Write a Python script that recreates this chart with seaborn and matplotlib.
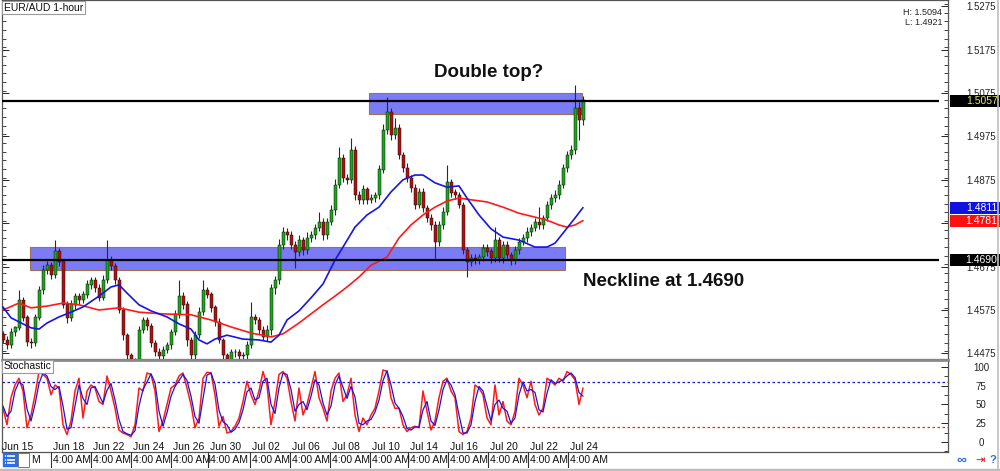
import numpy as np
import matplotlib
matplotlib.use('Agg')
import matplotlib.pyplot as plt
import matplotlib.transforms as mtransforms
from matplotlib.patches import Rectangle
from matplotlib.lines import Line2D
from matplotlib.ticker import MultipleLocator, FormatStrFormatter
import seaborn as sns

# --- price data (one candle ~ 5 hourly bars) ---
first_open = 1.4520
close = [
    1.4506, 1.4494, 1.4524, 1.4534, 1.4598, 1.4557, 1.4501, 1.4499, 1.4557, 1.4621,
    1.4667, 1.4679, 1.4656, 1.4709, 1.4686, 1.4587, 1.4557, 1.4587, 1.4607, 1.4598,
    1.4610, 1.4633, 1.4644, 1.4626, 1.4603, 1.4644, 1.4690, 1.4676, 1.4644, 1.4575,
    1.4517, 1.4471, 1.4441, 1.4455, 1.4529, 1.4552, 1.4538, 1.4499, 1.4478, 1.4469,
    1.4483, 1.4494, 1.4524, 1.4564, 1.4607, 1.4587, 1.4506, 1.4471, 1.4517, 1.4570,
    1.4621, 1.4610, 1.4580, 1.4547, 1.4506, 1.4471, 1.4460, 1.4478, 1.4478, 1.4469,
    1.4471, 1.4494, 1.4557, 1.4552, 1.4529, 1.4513, 1.4529, 1.4626, 1.4644, 1.4725,
    1.4755, 1.4748, 1.4725, 1.4709, 1.4736, 1.4713, 1.4741, 1.4748, 1.4764, 1.4778,
    1.4748, 1.4778, 1.4805, 1.4863, 1.4925, 1.4879, 1.4875, 1.4944, 1.4840, 1.4829,
    1.4852, 1.4829, 1.4833, 1.4840, 1.4898, 1.4990, 1.5031, 1.4978, 1.4994, 1.4932,
    1.4902, 1.4879, 1.4856, 1.4817, 1.4847, 1.4810, 1.4787, 1.4771, 1.4732, 1.4771,
    1.4801, 1.4868, 1.4845, 1.4840, 1.4817, 1.4713, 1.4686, 1.4695, 1.4690, 1.4697,
    1.4718, 1.4709, 1.4695, 1.4736, 1.4695, 1.4725, 1.4702, 1.4690, 1.4713, 1.4732,
    1.4741, 1.4755, 1.4764, 1.4778, 1.4771, 1.4787, 1.4817, 1.4833, 1.4840, 1.4863,
    1.4902, 1.4932, 1.4944, 1.5040, 1.5013, 1.5057]

# wick lengths above / below the body, in pips
wick_hi = [
    6, 8, 10, 5, 23, 7, 6, 9, 8, 10,
    12, 9, 7, 27, 8, 6, 9, 10, 7, 8,
    9, 11, 8, 6, 10, 12, 46, 9, 7, 6,
    8, 5, 6, 9, 10, 8, 7, 6, 8, 9,
    10, 7, 8, 12, 37, 9, 8, 6, 10, 12,
    23, 8, 7, 6, 9, 5, 6, 8, 7, 6,
    8, 10, 37, 9, 7, 8, 12, 10, 9, 14,
    12, 8, 10, 9, 11, 8, 13, 10, 9, 23,
    8, 10, 12, 15, 26, 10, 9, 27, 8, 9,
    12, 7, 9, 8, 12, 14, 35, 10, 23, 9,
    8, 11, 7, 9, 10, 8, 7, 9, 8, 10,
    12, 41, 9, 8, 7, 6, 8, 9, 10, 8,
    9, 10, 8, 30, 7, 9, 8, 6, 9, 10,
    8, 11, 9, 10, 34, 8, 9, 10, 12, 11,
    10, 9, 12, 54, 15, 12]
wick_lo = [
    8, 10, 7, 9, 6, 8, 10, 12, 7, 6,
    8, 9, 10, 7, 9, 8, 12, 7, 9, 10,
    8, 7, 9, 10, 8, 6, 7, 9, 10, 8,
    12, 10, 8, 9, 7, 8, 10, 9, 8, 10,
    9, 7, 8, 6, 8, 9, 15, 10, 8, 7,
    6, 8, 9, 10, 8, 9, 10, 8, 12, 9,
    8, 10, 7, 9, 10, 8, 9, 12, 14, 10,
    9, 12, 10, 37, 9, 11, 8, 10, 9, 8,
    12, 9, 8, 10, 7, 9, 10, 8, 12, 9,
    10, 9, 8, 10, 9, 8, 10, 12, 9, 10,
    9, 8, 10, 9, 8, 10, 9, 11, 42, 10,
    9, 8, 10, 9, 8, 10, 35, 9, 10, 8,
    9, 10, 12, 9, 10, 11, 9, 12, 10, 9,
    8, 9, 10, 8, 9, 10, 8, 9, 10, 9,
    8, 9, 10, 10, 46, 12]

# moving averages, sampled at candle indices
ma_fast_idx = [0, 2, 5, 7, 9, 11, 14, 17, 20, 24, 27, 29, 31, 34, 37, 41, 44, 47, 49, 51,
               53, 56, 60, 64, 67, 69, 71, 74, 77, 80, 83, 85, 88, 91, 94, 97, 100, 103, 105, 108,
               111, 114, 116, 119, 122, 125, 129, 133, 136, 138, 140, 143, 145]
ma_fast = [1.4582, 1.4557, 1.4543, 1.4534, 1.4531, 1.4545, 1.4559, 1.4570, 1.4582, 1.4607,
           1.4628, 1.4633, 1.4614, 1.4587, 1.4573, 1.4559, 1.4543, 1.4531, 1.4506, 1.4497,
           1.4508, 1.4517, 1.4508, 1.4506, 1.4501, 1.4517, 1.4552, 1.4573, 1.4603, 1.4635,
           1.4690, 1.4720, 1.4766, 1.4794, 1.4812, 1.4847, 1.4875, 1.4886, 1.4886, 1.4868,
           1.4858, 1.4861, 1.4833, 1.4794, 1.4762, 1.4743, 1.4736, 1.4720, 1.4720, 1.4729,
           1.4752, 1.4787, 1.4811]
ma_slow_idx = [0, 4, 7, 11, 15, 19, 24, 29, 34, 40, 47, 52, 57, 62, 67, 70, 74, 77, 80, 83,
               86, 89, 92, 96, 99, 102, 105, 108, 111, 114, 117, 121, 125, 129, 133, 136, 139, 141, 143, 145]
ma_slow = [1.4575, 1.4591, 1.4580, 1.4584, 1.4591, 1.4587, 1.4575, 1.4580, 1.4570, 1.4566,
           1.4564, 1.4552, 1.4536, 1.4522, 1.4513, 1.4520, 1.4545, 1.4566, 1.4587, 1.4607,
           1.4628, 1.4651, 1.4678, 1.4697, 1.4741, 1.4771, 1.4794, 1.4812, 1.4826, 1.4833,
           1.4829, 1.4824, 1.4812, 1.4798, 1.4789, 1.4782, 1.4771, 1.4766, 1.4771, 1.4781]

# stochastic %K (red) and %D (blue)
stoch_k = [45, 23, 59, 76, 85, 68, 19, 36, 63, 94, 90, 85, 63, 76, 72, 23, 10, 28, 68, 85,
           32, 68, 76, 72, 54, 50, 88, 68, 45, 16, 12, 10, 7, 23, 72, 68, 92, 90, 68, 14,
           28, 50, 72, 76, 88, 92, 72, 50, 19, 32, 85, 93, 92, 63, 21, 34, 12, 14, 21, 32,
           54, 81, 63, 50, 68, 94, 76, 23, 54, 90, 94, 85, 54, 28, 72, 36, 50, 72, 94, 59,
           45, 28, 68, 85, 92, 54, 63, 85, 36, 14, 32, 23, 36, 45, 68, 96, 94, 59, 45, 45,
           23, 14, 19, 21, 19, 68, 41, 16, 28, 59, 81, 85, 68, 59, 14, 10, 14, 32, 76, 72,
           63, 32, 23, 76, 36, 54, 28, 23, 41, 85, 76, 59, 81, 50, 36, 45, 85, 81, 76, 85,
           81, 94, 90, 83, 50, 72]
stoch_d = [48, 34, 41, 68, 80, 76, 44, 28, 50, 78, 92, 88, 74, 70, 74, 48, 17, 19, 48, 76,
           58, 50, 72, 74, 63, 52, 69, 78, 56, 30, 14, 11, 9, 15, 48, 70, 80, 91, 79, 41,
           21, 39, 61, 74, 82, 90, 82, 61, 34, 25, 58, 89, 92, 77, 42, 27, 23, 13, 17, 26,
           43, 67, 72, 56, 59, 81, 85, 50, 38, 72, 92, 90, 70, 41, 50, 54, 43, 61, 83, 76,
           52, 36, 48, 76, 88, 73, 58, 74, 60, 25, 23, 28, 30, 40, 56, 82, 95, 76, 52, 45,
           34, 18, 16, 20, 20, 43, 54, 28, 22, 43, 70, 83, 76, 63, 36, 12, 12, 23, 54, 74,
           68, 48, 28, 50, 56, 45, 41, 25, 32, 63, 80, 68, 70, 66, 43, 40, 65, 83, 78, 80,
           83, 88, 92, 86, 66, 61]

# annotation levels / zones
level_top = 1.5057
level_neck = 1.4690
zone_neck = [1.4667, 1.4720]
zone_top = [1.5027, 1.5075]
zone_neck_span = [6.75, 140.5]
zone_top_span = [91.5, 144.75]

date_labels = ['Jun 15', 'Jun 18', 'Jun 22', 'Jun 24', 'Jun 26', 'Jun 30', 'Jul 02', 'Jul 06',
               'Jul 08', 'Jul 10', 'Jul 14', 'Jul 16', 'Jul 20', 'Jul 22', 'Jul 24']
date_pos = [-0.25, 12.5, 22.5, 32.5, 42.5, 51.75, 62.25, 72.25, 82.25, 92.25,
            101.75, 111.75, 121.75, 131.75, 141.75]

sns.set_theme(style='white')
plt.rcParams['font.family'] = ['Liberation Sans', 'DejaVu Sans']

UP = '#1ea51e'
DOWN = '#b01010'
BLUE = '#1515e6'
RED = '#ff1a1a'

fig = plt.figure(figsize=(10, 4.71), dpi=100)
fig.patch.set_facecolor('white')
ax = fig.add_axes([0.002, 1 - 359 / 471, 0.946, 359 / 471])
ax_st = fig.add_axes([0.002, 1 - 452 / 471, 0.946, 92 / 471])
ax_bar = fig.add_axes([0.002, 3 / 471, 0.996, 16 / 471])

xlim = (-0.25, 236.25)

# --- candles ---
closes = np.array(close)
opens = np.array([first_open] + close[:-1])
highs = np.maximum(opens, closes) + np.array(wick_hi) / 10000
lows = np.minimum(opens, closes) - np.array(wick_lo) / 10000
idx = np.arange(len(closes))
colors = np.where(closes >= opens, UP, DOWN)

# zones behind everything
for span, z in [(zone_neck_span, zone_neck), (zone_top_span, zone_top)]:
    ax.add_patch(Rectangle((span[0], z[0]), span[1] - span[0], z[1] - z[0],
                           facecolor='#7b7bf7', edgecolor='#a0724a', lw=0.8, zorder=1))

ax.vlines(idx, lows, highs, color='#2a2a2a', lw=0.8, zorder=2)
ax.bar(idx, np.abs(closes - opens) + 0.00008, bottom=np.minimum(opens, closes),
       width=0.75, color=colors, edgecolor='#111111', linewidth=0.35, zorder=3)

sns.lineplot(x=ma_slow_idx, y=ma_slow, ax=ax, color=RED, linewidth=1.2, zorder=4)
sns.lineplot(x=ma_fast_idx, y=ma_fast, ax=ax, color=BLUE, linewidth=1.2, zorder=4)

for lv in (level_top, level_neck):
    ax.hlines(lv, xlim[0], 234, color='black', lw=1.6, zorder=5)

ax.text(121.5, 1.5123, 'Double top?', ha='center', va='center',
        fontsize=13.5, fontweight='bold', color='#111111', zorder=6)
ax.text(145, 1.4640, 'Neckline at 1.4690', ha='left', va='center',
        fontsize=13.5, fontweight='bold', color='#111111', zorder=6)

ax.set_xlim(*xlim)
ax.set_ylim(1.44621, 1.52893)
ax.set_xticks([])
ax.set_yticks(np.arange(1.4475, 1.5276, 0.01))
ax.yaxis.set_major_formatter(FormatStrFormatter('%.4f'))
ax.yaxis.set_minor_locator(MultipleLocator(0.002))
ax.tick_params(axis='y', which='both', left=True, right=True, labelleft=False,
               labelright=True, direction='in', labelsize=7, colors='#222222', pad=24)
ax.tick_params(axis='y', which='major', length=5, width=0.7)
ax.tick_params(axis='y', which='minor', length=3, width=0.6)
for t in ax.yaxis.get_major_ticks():
    t.label2.set_horizontalalignment('center')
for sp in ax.spines.values():
    sp.set_color('#555555')
    sp.set_linewidth(0.9)
ax.set_ylabel('')

# price tags on the axis
trans = mtransforms.blended_transform_factory(ax.transAxes, ax.transData)
tags = [(level_top, 'black', '#e6e660'), (ma_fast[-1], '#1010e0', 'white'),
        (ma_slow[-1], '#ff1010', 'white'), (level_neck, 'black', 'white')]
for val, bg, fg in tags:
    ax.add_patch(Rectangle((1.002, val - 0.00140), 0.054, 0.0028, transform=trans,
                           facecolor=bg, edgecolor='none', clip_on=False, zorder=7))
    ax.text(1.0355, val, f'{val:.4f}', transform=trans, ha='center', va='center',
            fontsize=7.5, color=fg, clip_on=False, zorder=8)

ax.text(0.9937, 0.966, 'H: 1.5094', transform=ax.transAxes, ha='right', va='center',
        fontsize=6.5, color='#222222')
ax.text(0.9937, 0.936, 'L: 1.4921', transform=ax.transAxes, ha='right', va='center',
        fontsize=6.5, color='#222222')
ax.text(0.002, 0.992, 'EUR/AUD 1-hour', transform=ax.transAxes, ha='left', va='top',
        fontsize=7.5, color='#111111', zorder=9,
        bbox=dict(boxstyle='square,pad=0.15', facecolor='white', edgecolor='#9a9a9a', lw=0.8))

# --- stochastic panel ---
ax_st.axhline(80, color=BLUE, lw=0.9, ls=(0, (2, 2)))
ax_st.axhline(20, color=RED, lw=0.9, ls=(0, (2, 2)))
sns.lineplot(x=idx, y=stoch_k, ax=ax_st, color=RED, linewidth=1.1)
sns.lineplot(x=idx, y=stoch_d, ax=ax_st, color=BLUE, linewidth=0.9)
ax_st.set_xlim(*xlim)
ax_st.set_ylim(-13.3, 109.3)
ax_st.set_xticks([])
ax_st.set_yticks([0, 25, 50, 75, 100])
ax_st.yaxis.set_minor_locator(MultipleLocator(12.5))
ax_st.tick_params(axis='y', which='both', left=False, right=True, labelleft=False,
                  labelright=True, direction='in', labelsize=7, colors='#222222', pad=24)
ax_st.tick_params(axis='y', which='major', length=5, width=0.7)
ax_st.tick_params(axis='y', which='minor', length=3, width=0.6)
for t in ax_st.yaxis.get_major_ticks():
    t.label2.set_horizontalalignment('center')
for sp in ax_st.spines.values():
    sp.set_color('#555555')
    sp.set_linewidth(0.9)
ax_st.spines['top'].set_color('#8a8a8a')
ax_st.spines['top'].set_linewidth(2)
ax_st.text(0.002, 0.985, 'Stochastic', transform=ax_st.transAxes, ha='left', va='top',
           fontsize=7.5, color='#111111', zorder=9,
           bbox=dict(boxstyle='square,pad=0.15', facecolor='white', edgecolor='#9a9a9a', lw=0.8))
for lab, pos in zip(date_labels, date_pos):
    ax_st.text(pos, -6, lab, ha='left', va='center', fontsize=7.5, color='#111111')

# --- bottom time strip ---
ax_bar.set_xlim(xlim[0], xlim[0] + (xlim[1] - xlim[0]) * 0.996 / 0.946)
ax_bar.set_ylim(0, 1)
ax_bar.axis('off')
ax_bar.add_patch(Rectangle((0, 0.1), 3.5, 0.85, facecolor='#2a6df0', edgecolor='#2a6df0'))
for yy in (0.3, 0.52, 0.74):
    ax_bar.hlines(yy, 1.1, 3.0, color='white', lw=1.2)
    ax_bar.hlines(yy, 0.4, 0.7, color='white', lw=1.2)
ax_bar.add_patch(Rectangle((3.8, 0.05), 2.6, 0.9, facecolor='white', edgecolor='#777777', lw=0.7))
ax_bar.text(7.0, 0.5, 'M', ha='left', va='center', fontsize=7.5, color='#111111')
for pos in date_pos[1:]:
    ax_bar.vlines(pos - 0.55, 0.0, 1.0, color='#333333', lw=0.8)
    ax_bar.text(pos, 0.5, '4:00 AM', ha='left', va='center', fontsize=7.5, color='#111111')
ax_bar.text(238.3, 0.5, '\u221e', ha='left', va='center', fontsize=10,
            color='#2a6df0', fontweight='bold')
ax_bar.text(243.0, 0.5, '\u21e5', ha='left', va='center', fontsize=8, color='#e01010')
ax_bar.text(246.6, 0.5, '?', ha='left', va='center', fontsize=8, color='#2a6df0', fontweight='bold')

# frame pieces
fig.add_artist(Line2D([0, 1], [1.5 / 471, 1.5 / 471], color='#bdbdbd', lw=2.5))
fig.add_artist(Line2D([0.998, 0.998], [0, 1], color='#bdbdbd', lw=1.2))

fig.savefig('out.png', dpi=100)
